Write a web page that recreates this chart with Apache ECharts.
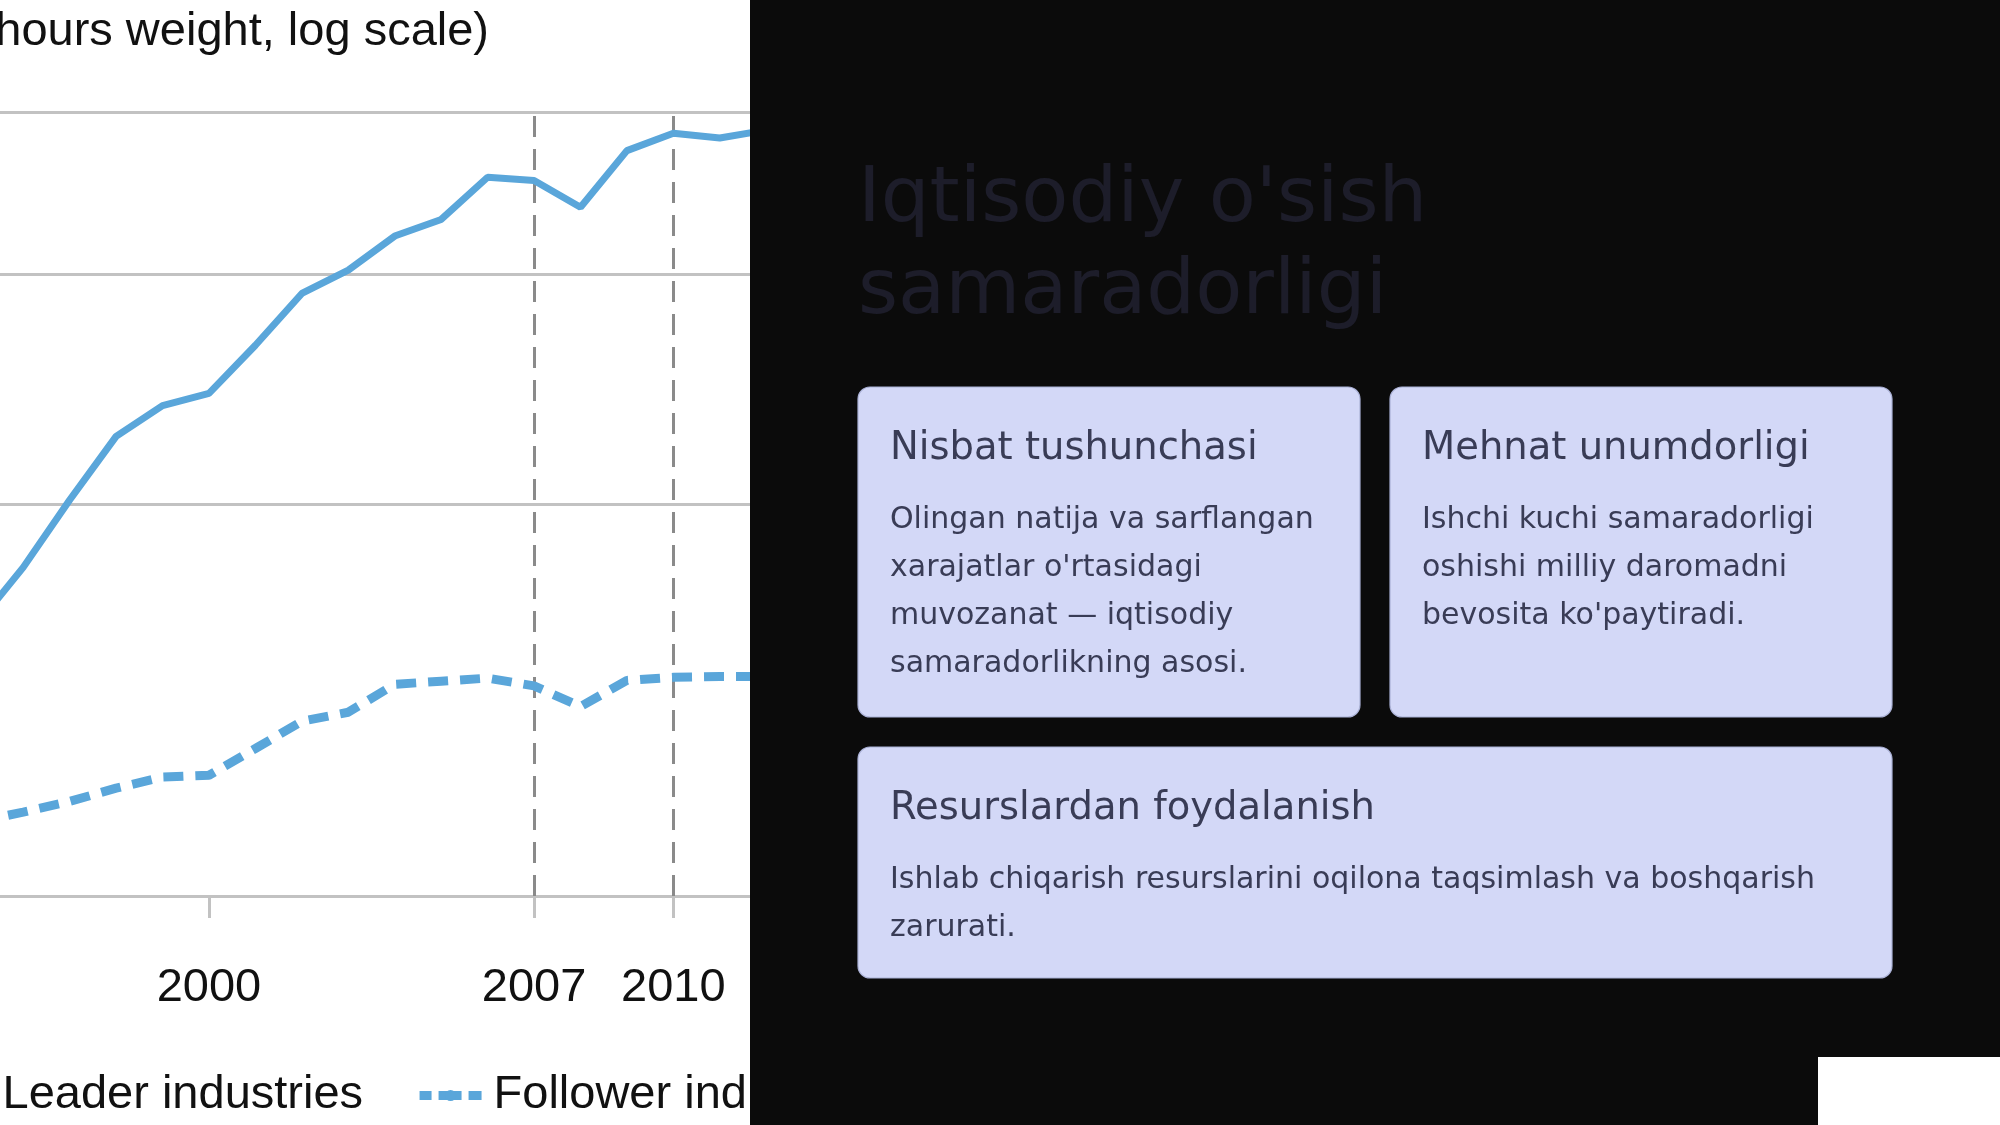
<!DOCTYPE html>
<html>
<head>
<meta charset="utf-8">
<script src="https://cdn.jsdelivr.net/npm/echarts@6/dist/echarts.min.js"></script>
<style>
html,body{margin:0;padding:0;background:#ffffff;overflow:hidden;}
#c{width:2000px;height:1125px;}
</style>
</head>
<body>
<div id="c"></div>
<script>
// ---- data ----
const years = [1995, 1996, 1997, 1998, 1999, 2000, 2001, 2002, 2003, 2004, 2005, 2006, 2007, 2008, 2009, 2010, 2011, 2012];
const leader = [80.8, 89.4, 100.7, 112.7, 119.0, 121.6, 132.4, 145.1, 151.2, 160.6, 165.4, 178.2, 177.2, 169.0, 186.8, 192.6, 191.0, 193.7];
const follower = [57.0, 58.0, 59.1, 60.5, 61.7, 61.9, 64.9, 68.1, 69.2, 72.7, 73.1, 73.5, 72.5, 69.9, 73.2, 73.6, 73.7, 73.7];
const xTicks = [2000, 2007, 2010];
const yGridValues = [100, 150, 200];
const markedYears = [2007, 2010];
const axisNote = 'hours weight, log scale)';
const legendNames = ['Leader industries', 'Follower industries'];
const slideTitle = ["Iqtisodiy o'sish", 'samaradorligi'];
const cardTitles = ['Nisbat tushunchasi', 'Mehnat unumdorligi', 'Resurslardan foydalanish'];
const cardLines = [
  ['Olingan natija va sarflangan', "xarajatlar o'rtasidagi", 'muvozanat \u2014 iqtisodiy', 'samaradorlikning asosi.'],
  ['Ishchi kuchi samaradorligi', 'oshishi milliy daromadni', "bevosita ko'paytiradi."],
  ['Ishlab chiqarish resurslarini oqilona taqsimlash va boshqarish', 'zarurati.']
];

// ---- layout ----
const BLUE = '#5aa6da';
const SANS = '"Liberation Sans", Arial, sans-serif';
const DJ = '"DejaVu Sans", sans-serif';
const panelX = 750;
const cardBoxes = [
  {x: 858, y: 387, w: 502, h: 330},
  {x: 1390, y: 387, w: 502, h: 330},
  {x: 858, y: 747, w: 1034, h: 231}
];

const graphics = [];
graphics.push({
  type: 'text', x: 489, y: 9, silent: true, z: 50,
  style: {text: axisNote, font: '47px ' + SANS, fill: '#111', align: 'right', verticalAlign: 'top', lineHeight: 46}
});
graphics.push({
  type: 'rect', silent: true, z: 100,
  shape: {x: panelX, y: 0, width: 2000 - panelX, height: 1125},
  style: {fill: '#0b0b0b'}
});
graphics.push({
  type: 'text', x: 858, y: 155, silent: true, z: 101,
  style: {text: slideTitle.join('\n'), font: '77px ' + DJ, fill: '#1d1d2a', align: 'left', verticalAlign: 'top', lineHeight: 92}
});
cardBoxes.forEach((b, i) => {
  graphics.push({
    type: 'rect', silent: true, z: 101,
    shape: {x: b.x, y: b.y, width: b.w, height: b.h, r: 12},
    style: {fill: '#d3d8f7', stroke: '#aab1d6', lineWidth: 1.2}
  });
  graphics.push({
    type: 'text', x: b.x + 32, y: b.y + 40, silent: true, z: 102,
    style: {text: cardTitles[i], font: '38.5px ' + DJ, fill: '#393c56', align: 'left', verticalAlign: 'top', lineHeight: 44}
  });
  graphics.push({
    type: 'text', x: b.x + 32, y: b.y + 109.5, silent: true, z: 102,
    style: {text: cardLines[i].join('\n'), font: '30px ' + DJ, fill: '#393c56', align: 'left', verticalAlign: 'top', lineHeight: 48}
  });
});
graphics.push({
  type: 'rect', silent: true, z: 103,
  shape: {x: 1818, y: 1057, width: 182, height: 68},
  style: {fill: '#ffffff'}
});

const chart = echarts.init(document.getElementById('c'), null, {renderer: 'canvas'});
chart.setOption({
  animation: false,
  backgroundColor: '#ffffff',
  grid: {left: 0, right: 1048, top: 112, bottom: 229, containLabel: false},
  xAxis: {
    type: 'value', min: 1995.5, max: 2016,
    axisLine: {show: true, lineStyle: {color: '#c2c2c2', width: 3}},
    axisTick: {show: true, customValues: xTicks, length: 22, lineStyle: {color: '#c2c2c2', width: 3}},
    axisLabel: {customValues: xTicks, margin: 69, fontSize: 47, fontFamily: SANS, color: '#111', formatter: v => String(v)},
    splitLine: {show: false}
  },
  yAxis: {type: 'log', logBase: 10, min: 50, max: 200, show: false},
  legend: {
    data: legendNames, left: -76, top: 1072, padding: 0, orient: 'horizontal',
    itemWidth: 62, itemHeight: 14, itemGap: 52, selectedMode: false,
    lineStyle: {width: 9, type: [23, 7], dashOffset: 11},
    textStyle: {fontSize: 47, fontFamily: SANS, color: '#111', padding: [0, 0, 0, 7]}
  },
  series: [
    {
      name: legendNames[0], type: 'line', symbol: 'none', z: 3,
      data: years.map((y, i) => [y, leader[i]]),
      lineStyle: {color: BLUE, width: 7},
      itemStyle: {color: BLUE}
    },
    {
      name: legendNames[1], type: 'line', symbol: 'none', z: 3,
      data: years.map((y, i) => [y, follower[i]]),
      lineStyle: {color: BLUE, width: 9, type: [20, 12]},
      itemStyle: {color: BLUE},
      markLine: {
        silent: true, z: 1, animation: false, symbol: ['none', 'none'],
        label: {show: false}, emphasis: {disabled: true},
        data: [
          ...yGridValues.map(v => ({yAxis: v, lineStyle: {color: '#c2c2c2', width: 3, type: 'solid'}})),
          ...markedYears.map(v => ({xAxis: v, lineStyle: {color: '#8a8a8a', width: 3, type: [21, 12]}}))
        ]
      }
    }
  ],
  graphic: {elements: graphics}
});
</script>
</body>
</html>
